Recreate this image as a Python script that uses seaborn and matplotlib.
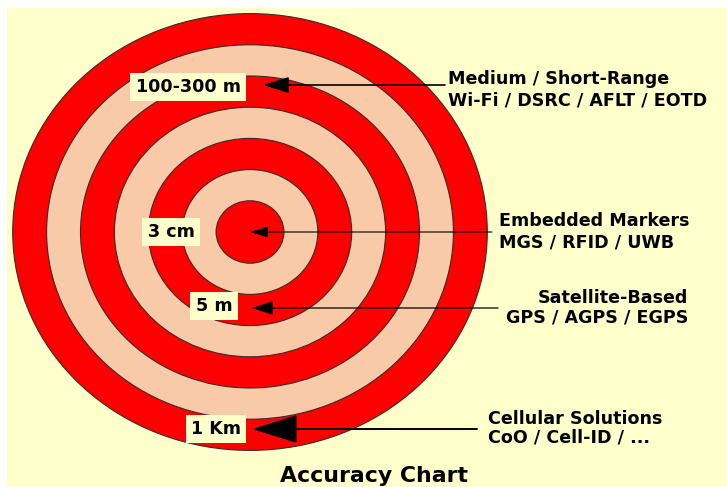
import numpy as np
import matplotlib
matplotlib.use('Agg')
import matplotlib.pyplot as plt
import seaborn as sns
from matplotlib.patches import Ellipse, FancyArrowPatch

sns.set_style('white')
plt.rcParams['font.family'] = ['DejaVu Sans']
plt.rcParams['text.color'] = 'black'

# data
n_rings = 7
ring_labels = ['3 cm', '5 m', '100-300 m', '1 Km']
categories = ['Embedded Markers', 'Satellite-Based', 'Medium / Short-Range', 'Cellular Solutions']
technologies = ['MGS / RFID / UWB', 'GPS / AGPS / EGPS', 'Wi-Fi / DSRC / AFLT / EOTD', 'CoO / Cell-ID / ...']

RED = '#ff0000'
PEACH = '#f8caa8'
YELLOW = '#ffffcc'

fig = plt.figure(figsize=(7.27, 4.87), dpi=100)
ax = fig.add_axes([7 / 727, 0, 720 / 727, 479 / 487])
ax.set_facecolor(YELLOW)
ax.set_xlim(7, 727)
ax.set_ylim(487, 8)
ax.axis('off')
ax.add_patch(plt.Rectangle((7, 8), 720, 479, color=YELLOW, zorder=0))

cx, cy = 250, 232
step_x, step_y = 33.9, 31.2
for k in range(n_rings, 0, -1):
    col = RED if k % 2 == 1 else PEACH
    ax.add_patch(Ellipse((cx, cy), 2 * k * step_x, 2 * k * step_y, facecolor=col,
                         edgecolor='#3a2a2a', lw=0.8, zorder=1))

# arrows: label pos, tip, tail, head length (pt), head half width (pt), line width
arrows = [
    ((171, 232), (cx, 232), (492, 232), 11, 3.3, 0.8),
    ((214, 306), (252, 308), (498, 308), 13, 4.3, 0.9),
    ((188, 87), (263, 85), (445, 85), 16, 5.0, 1.2),
    ((216, 429), (252, 429), (477, 429), 29, 9.0, 1.4),
]
for lab, (lpos, tip, tail, hl, hw, lw) in zip(ring_labels, arrows):
    ax.add_patch(FancyArrowPatch(tail, tip,
                                 arrowstyle=f'-|>,head_length={hl},head_width={hw}',
                                 mutation_scale=1, color='black', lw=lw,
                                 shrinkA=0, shrinkB=0, zorder=3))
    ax.text(lpos[0], lpos[1], lab, ha='center', va='center', fontsize=12.6,
            fontweight='bold', zorder=4,
            bbox=dict(boxstyle='square,pad=0.3', facecolor=YELLOW, edgecolor='none'))

# descriptions
desc = [
    (499, 221, 242, 'left'),
    (688, 298, 318, 'right'),
    (448, 79, 100, 'left'),
    (488, 419, 438, 'left'),
]
for cat, tech, (x, y1, y2, ha) in zip(categories, technologies, desc):
    ax.text(x, y1, cat, ha=ha, va='center', fontsize=12.6, fontweight='bold', zorder=4)
    ax.text(x, y2, tech, ha=ha, va='center', fontsize=12.6, fontweight='bold', zorder=4)

ax.text(374, 476, 'Accuracy Chart', ha='center', va='center', fontsize=15.8,
        fontweight='bold', zorder=4)

fig.savefig('out.png', dpi=100, facecolor='white')
